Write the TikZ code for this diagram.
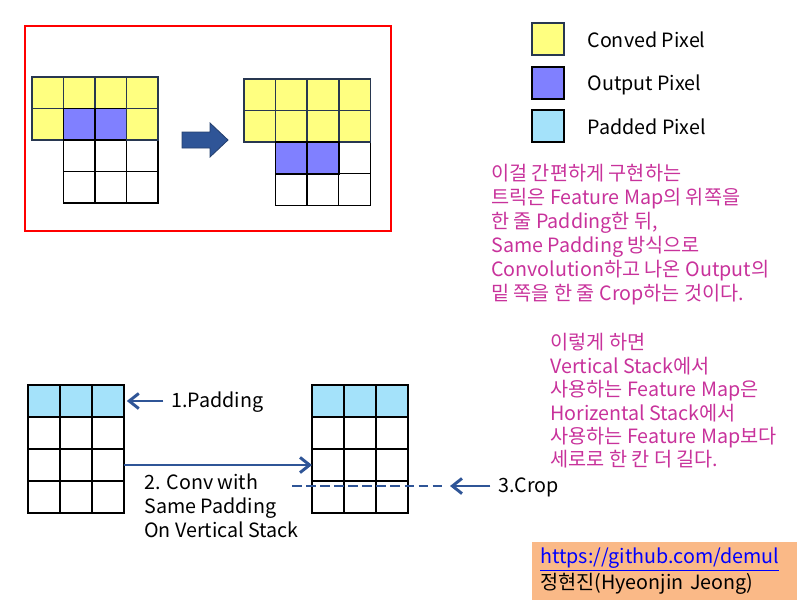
\documentclass[tikz,border=0pt]{standalone}
\usepackage{fontspec}
\setmainfont{Noto Sans CJK KR}
\usepackage{tikz}
\usetikzlibrary{positioning,arrows.meta}
\definecolor{convyellow}{RGB}{255,255,128}
\definecolor{convedge}{RGB}{40,55,80}
\definecolor{outblue}{RGB}{128,128,255}
\definecolor{padcyan}{RGB}{164,226,250}
\definecolor{flowblue}{RGB}{47,85,151}
\definecolor{flowedge}{RGB}{37,64,110}
\definecolor{notepink}{RGB}{200,50,155}
\definecolor{creditorange}{RGB}{250,185,135}
\definecolor{linkblue}{RGB}{0,0,255}

\tikzset{
  cell/.style={draw=black, line width=1pt, minimum size=7.9mm, inner sep=0pt, outer sep=0pt},
  bigcell/.style={cell, minimum size=8mm},
  conv/.style={fill=convyellow, draw=convedge, line width=1.2pt},
  outp/.style={fill=outblue, draw=black, line width=1.2pt},
  padd/.style={fill=padcyan, draw=black, line width=1.4pt},
  txt/.style={inner sep=0pt, font=\fontsize{14}{17}\selectfont},
  note/.style={txt, align=left, text=notepink},
  flow/.style={flowblue, line width=2.1pt, -{Straight Barb[length=2.4mm,width=3.8mm]}},
}

\begin{document}
\begin{tikzpicture}[x=0.025cm, y=-0.025cm]
\useasboundingbox (0,0) rectangle (800,600);

% red frame
\draw[red, line width=1.2pt] (25,26) rectangle (391,231);

% before conv (left grid)
\foreach \r in {2,3}
  \foreach \c in {1,2,3}
    \node[cell] (tl-\r-\c) at ({47.75+31.5*\c},{92.75+31.5*\r}) {};
\foreach \c in {0,...,3}
  \node[cell,conv] (tl-0-\c) at ({47.75+31.5*\c},92.75) {};
\foreach \c/\f in {0/conv,1/outp,2/outp,3/conv}
  \node[cell,\f] (tl-1-\c) at ({47.75+31.5*\c},124.25) {};

% block arrow
\filldraw[fill=flowblue, draw=flowedge, line width=0.6pt]
  (182,132) -- (210,132) -- (210,123) -- (228,140) -- (210,157) -- (210,148) -- (182,148) -- cycle;

% after conv (right grid)
\foreach \r in {2,3}
  \foreach \c in {1,2,3}
    \node[cell] (tr-\r-\c) at ({259.75+31.6*\c},{94.75+31.6*\r}) {};
\foreach \r in {0,1}
  \foreach \c in {0,...,3}
    \node[cell,conv] (tr-\r-\c) at ({259.75+31.6*\c},{94.75+31.6*\r}) {};
\foreach \c in {1,2}
  \node[cell,outp] (tr-2-\c) at ({259.75+31.6*\c},157.95) {};

% legend
\node[bigcell,conv] (lg-conv) at (548,39) {};
\node[bigcell,outp] (lg-out) at (548,83) {};
\node[bigcell,padd] (lg-pad) at (548,126) {};
\node[txt, right=5.8mm of lg-conv, yshift=-0.5pt] (lg-conv-t) {Conved Pixel};
\node[txt, right=5.8mm of lg-out, yshift=-1.5pt] (lg-out-t) {Output Pixel};
\node[txt, right=5.8mm of lg-pad, yshift=-0.5pt] (lg-pad-t) {Padded Pixel};

% notes
\node[note, anchor=north west] (note1) at (491,164)
  {이걸 간편하게 구현하는\\트릭은 Feature Map의 위쪽을\\한 줄 Padding한 뒤,\\Same Padding 방식으로\\Convolution하고 나온 Output의\\밑 쪽을 한 줄 Crop하는 것이다.};
\node[note, anchor=north west, font=\fontsize{14}{16.7}\selectfont] (note2) at (550,333)
  {이렇게 하면\\Vertical Stack에서\\사용하는 Feature Map은\\Horizental Stack에서\\사용하는 Feature Map보다\\세로로 한 칸 더 길다.};

% vertical stack grids
\foreach \r in {1,2,3}
  \foreach \c in {0,1,2} {
    \node[bigcell] (bl-\r-\c) at ({44+32*\c},{401+32*\r}) {};
    \node[bigcell] (br-\r-\c) at ({328+32*\c},{401+32*\r}) {};
  }
\foreach \c in {0,1,2} {
  \node[bigcell,padd] (bl-0-\c) at ({44+32*\c},401) {};
  \node[bigcell,padd] (br-0-\c) at ({328+32*\c},401) {};
}

% steps
\node[txt, anchor=west] (padlabel) at (171,402.5) {1.Padding};
\draw[flow, shorten <=5.5pt, shorten >=2pt] (padlabel.west) ++(0,-1.5) -- (bl-0-2.east);

\draw[flow] (bl-2-2.east) -- (br-2-0.west);
\node[txt, anchor=north west, align=left, font=\fontsize{14}{16.9}\selectfont] (convlabel) at (144,474)
  {2. Conv with\\Same Padding\\On Vertical Stack};

\coordinate (cropL) at (292,486);
\coordinate (cropR) at (442,486);
\draw[flowblue, line width=2.1pt, dash pattern=on 7pt off 3pt] (cropL) -- (cropR);
\node[txt, anchor=west] (croplabel) at (498,487.5) {3.Crop};
\draw[flow, shorten <=5.5pt, shorten >=5.7pt] (croplabel.west) ++(0,-1.5) -- (cropR);

% credit
\node[fill=creditorange, anchor=north west, align=left, text width=6.225cm,
  inner xsep=5.7pt, inner ysep=4pt, minimum height=1.4cm,
  font=\fontsize{14}{16.9}\selectfont] (credit) at (532,542)
  {\textcolor{linkblue}{\underline{https://github.com/demul}}\\정현진(Hyeonjin Jeong)};

\end{tikzpicture}
\end{document}
